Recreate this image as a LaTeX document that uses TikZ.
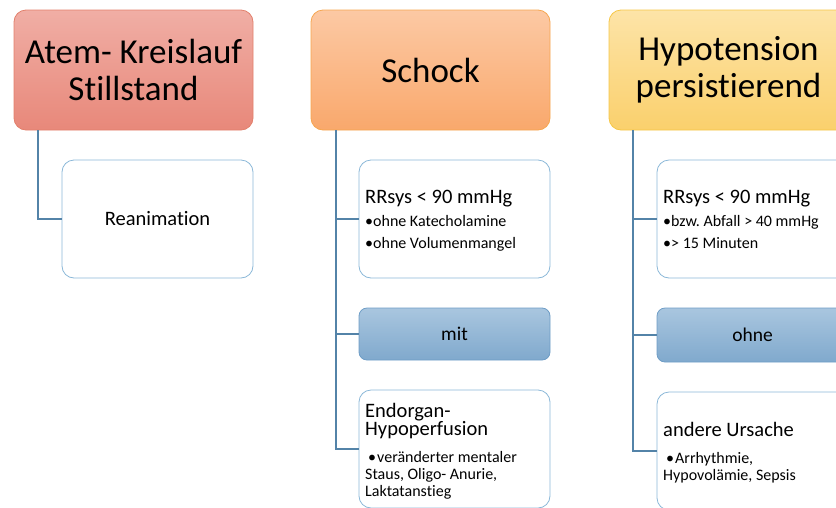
\documentclass[tikz,border=0pt]{standalone}
\usepackage{fontspec}
\setmainfont{Carlito}[Ligatures=NoCommon]
\frenchspacing
\definecolor{redtop}{HTML}{F0AEA5}
\definecolor{redbot}{HTML}{E8887A}
\definecolor{redline}{HTML}{E2806C}
\definecolor{orgtop}{HTML}{FCC9A4}
\definecolor{orgbot}{HTML}{F9A86C}
\definecolor{orgline}{HTML}{F6A650}
\definecolor{yeltop}{HTML}{FDE4A8}
\definecolor{yelbot}{HTML}{FAD06C}
\definecolor{yelline}{HTML}{F6C746}
\definecolor{bluetop}{HTML}{A9C6DF}
\definecolor{bluebot}{HTML}{80A9CD}
\definecolor{blueline}{HTML}{6E9DC6}
\definecolor{subline}{HTML}{8BB8D8}
\definecolor{conn}{HTML}{5383A8}
\newcommand\headfont{\fontsize{20.5}{18.5}\selectfont}
\newcommand\bulfont{\fontsize{16}{17}\selectfont}
% bullet directly followed by its text
\newcommand\tightitem[2]{\par\vspace{#1}\noindent\textbullet#2}
% bullet with hanging indent for wrapped lines
\newcommand\hangitem[1]{\par\vspace{10pt}\hangindent=12pt\hangafter=1\noindent\hspace*{3pt}\makebox[9pt][l]{\textbullet}#1}
\tikzset{
  titlebox/.style={draw, line width=0.8pt, rounded corners=12pt,
    minimum width=239pt, minimum height=120pt, align=center,
    font=\fontsize{35}{37.5}\selectfont},
  subbox/.style={draw=subline, fill=white, line width=0.8pt, rounded corners=12pt,
    minimum width=191pt, minimum height=118pt, inner sep=0pt},
  subtext/.style={anchor=base west, inner sep=0pt, text width=179pt,
    align=flush left, font=\bulfont},
  tagbox/.style={draw=blueline, line width=0.8pt, rounded corners=8pt,
    top color=bluetop, bottom color=bluebot,
    minimum width=191pt, align=center, font=\fontsize{19.5}{21}\selectfont},
  link/.style={draw=conn, line width=2pt}
}
\begin{document}
\begin{tikzpicture}[x=1pt,y=-1pt]
\useasboundingbox (0,0) rectangle (836,507);
\clip (0,0) rectangle (836,507);

% column 1
\node[titlebox, draw=redline, top color=redtop, bottom color=redbot]
  (arrest) at (133.5,70) {Atem- Kreislauf\\Stillstand};
\node[subbox, font=\fontsize{20.5}{22}\selectfont]
  (rean) at (157.5,219) {Reanimation};
\draw[link] ([xshift=24pt]arrest.south west) |- (rean.west);

% column 2
\node[titlebox, draw=orgline, top color=orgtop, bottom color=orgbot]
  (shock) at (430.5,70) {Schock};
\node[subbox] (rr1) at (454.5,219) {};
\node[subtext] (rr1txt) at (365,203)
  {{\headfont RRsys < 90 mmHg\par}\tightitem{6.5pt}{ohne Katecholamine}\tightitem{5pt}{ohne Volumenmangel}};
\node[tagbox, minimum height=52pt] (with) at (454.5,334) {mit};
\node[subbox] (organ) at (454.5,449) {};
\node[subtext] (organtxt) at (365,417)
  {{\headfont Endorgan-\\Hypoperfusion\par}\hangitem{veränderter mentaler\newline Staus, Oligo- Anurie,\newline Laktatanstieg}};
\draw[link] ([xshift=25pt]shock.south west) |- (rr1.west);
\draw[link] ([xshift=25pt]shock.south west) |- (with.west);
\draw[link] ([xshift=25pt]shock.south west) |- (organ.west);

% column 3
\node[titlebox, draw=yelline, top color=yeltop, bottom color=yelbot]
  (hypo) at (728.5,70) {Hypotension\\persistierend};
\node[subbox] (rr2) at (752.5,219) {};
\node[subtext] (rr2txt) at (663,203)
  {{\headfont RRsys < 90 mmHg\par}\tightitem{6.5pt}{bzw. Abfall > 40 mmHg}\tightitem{5pt}{> 15 Minuten}};
\node[tagbox, minimum height=54pt] (without) at (752.5,335) {ohne};
\node[subbox] (other) at (752.5,451) {};
\node[subtext] (othertxt) at (663,436)
  {{\headfont andere Ursache\par}\hangitem{Arrhythmie,\newline Hypovolämie, Sepsis}};
\draw[link] ([xshift=24pt]hypo.south west) |- (rr2.west);
\draw[link] ([xshift=24pt]hypo.south west) |- (without.west);
\draw[link] ([xshift=24pt]hypo.south west) |- (other.west);
\end{tikzpicture}
\end{document}
